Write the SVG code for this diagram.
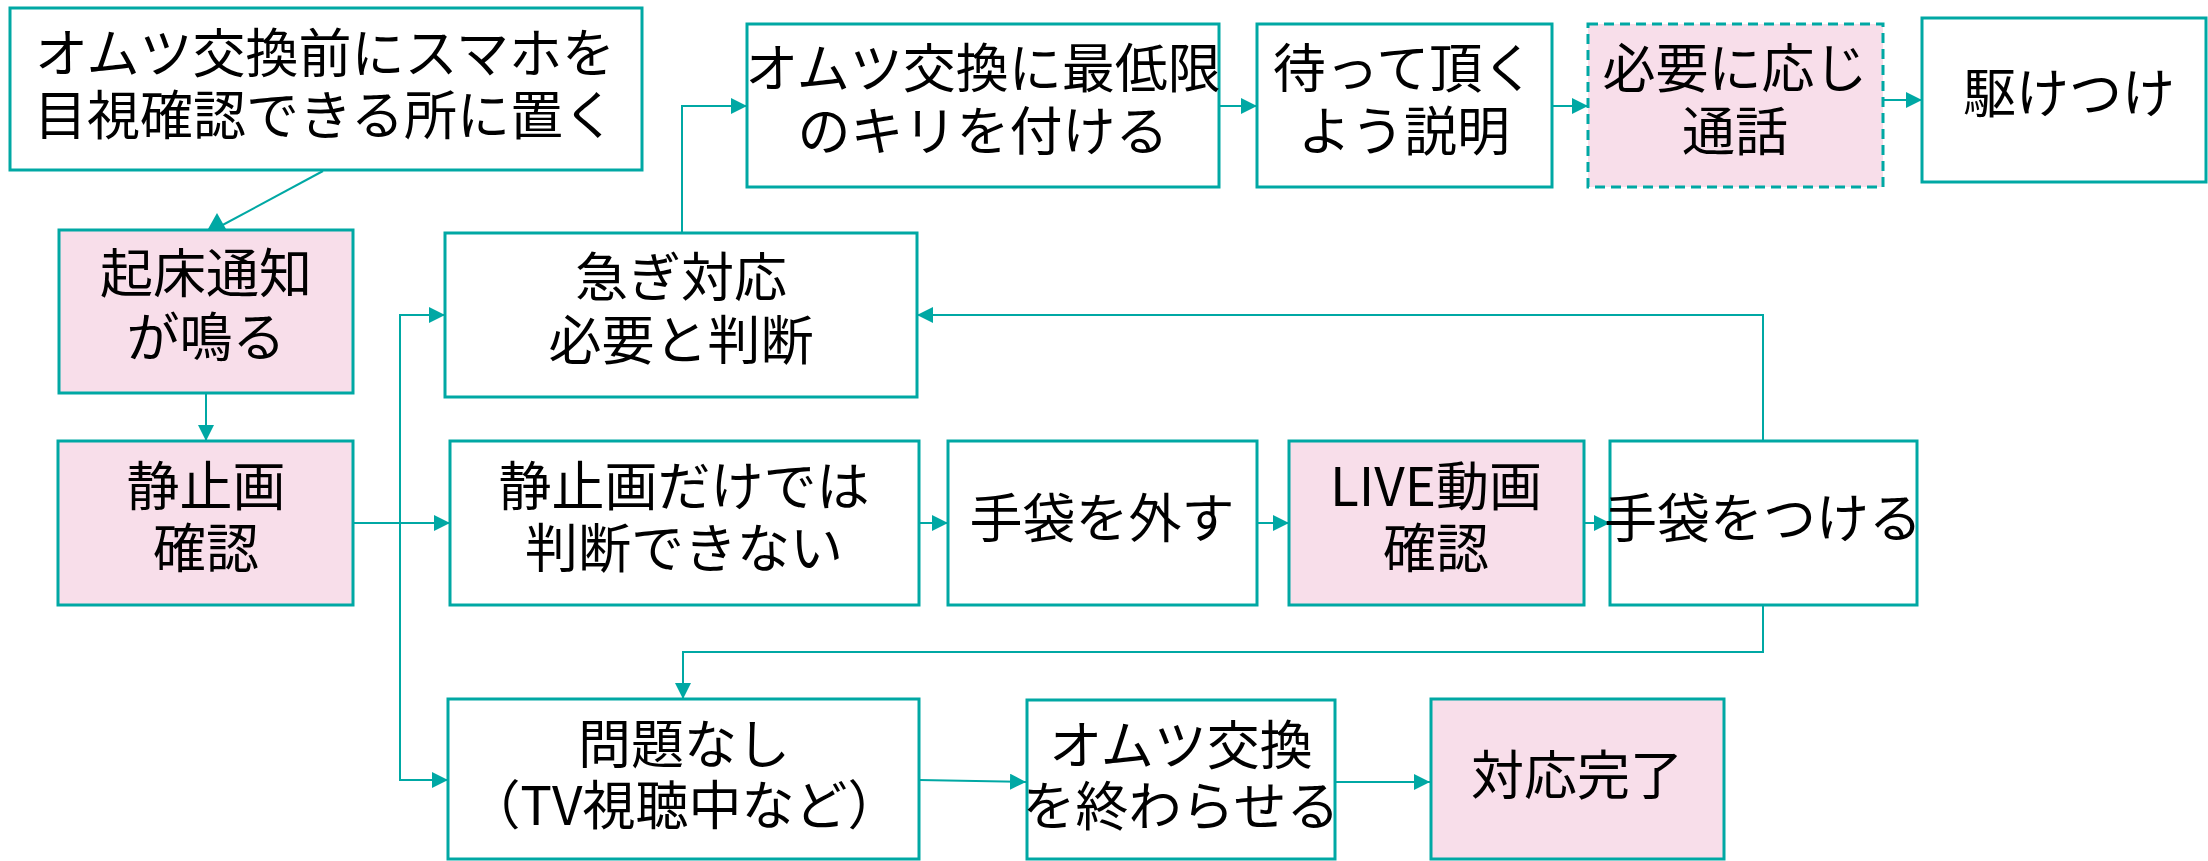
<svg xmlns="http://www.w3.org/2000/svg" width="2208" height="861" viewBox="0 0 2208 861">
<style>
.box{fill:#ffffff;stroke:#00A8A4;stroke-width:3}
.pink{fill:#F8DEEA}
.dash{stroke-dasharray:10 6}
.t{font-family:"Noto Sans CJK JP","Noto Sans",sans-serif;font-size:53px;fill:#000000;text-anchor:middle}
.c{fill:none;stroke:#00A8A4;stroke-width:2}
</style>
<defs>
<marker id="ah" markerUnits="userSpaceOnUse" markerWidth="16" markerHeight="16" refX="16" refY="8" orient="auto">
<path d="M0,0 L16,8 L0,16 z" fill="#00A8A4"/>
</marker>
</defs>
<rect width="2208" height="861" fill="#ffffff"/>
<g id="connectors">
<line class="c" x1="323" y1="171" x2="217" y2="228"/>
<polygon points="217,213 208,229 226,229" fill="#00A8A4"/>
<line class="c" x1="206" y1="393" x2="206" y2="441" marker-end="url(#ah)"/>
<polyline class="c" points="682,233 682,106 747,106" marker-end="url(#ah)"/>
<line class="c" x1="1219" y1="106" x2="1257" y2="106" marker-end="url(#ah)"/>
<line class="c" x1="1552" y1="106" x2="1588" y2="106" marker-end="url(#ah)"/>
<line class="c" x1="1883" y1="100" x2="1922" y2="100" marker-end="url(#ah)"/>
<line class="c" x1="353" y1="523" x2="450" y2="523" marker-end="url(#ah)"/>
<polyline class="c" points="400,780 400,315 445,315" marker-end="url(#ah)"/>
<polyline class="c" points="400,600 400,780 448,780" marker-end="url(#ah)"/>
<line class="c" x1="919" y1="523" x2="948" y2="523" marker-end="url(#ah)"/>
<line class="c" x1="1257" y1="523" x2="1289" y2="523" marker-end="url(#ah)"/>
<line class="c" x1="1584" y1="523" x2="1610" y2="523" marker-end="url(#ah)"/>
<polyline class="c" points="1763,441 1763,315 917,315" marker-end="url(#ah)"/>
<polyline class="c" points="1763,605 1763,652 683,652 683,699" marker-end="url(#ah)"/>
<line class="c" x1="919" y1="780" x2="1026" y2="782" marker-end="url(#ah)"/>
<line class="c" x1="1335" y1="782" x2="1430" y2="782" marker-end="url(#ah)"/>
</g>
<g id="n1">
<rect class="box" x="10" y="8" width="632" height="162"/>
<text class="t" y="73"><tspan x="325">オムツ交換前にスマホを</tspan><tspan x="325" dy="62">目視確認できる所に置く</tspan></text>
</g>
<g id="n2">
<rect class="box pink" x="59" y="230" width="294" height="163"/>
<text class="t" y="293"><tspan x="206">起床通知</tspan><tspan x="206" dy="64">が鳴る</tspan></text>
</g>
<g id="n3">
<rect class="box" x="445" y="233" width="472" height="164"/>
<text class="t" y="297"><tspan x="681">急ぎ対応</tspan><tspan x="681" dy="63">必要と判断</tspan></text>
</g>
<g id="n4">
<rect class="box" x="747" y="24" width="472" height="163"/>
<text class="t" y="88"><tspan x="983">オムツ交換に最低限</tspan><tspan x="983" dy="63">のキリを付ける</tspan></text>
</g>
<g id="n5">
<rect class="box" x="1257" y="24" width="295" height="163"/>
<text class="t" y="88"><tspan x="1404">待って頂く</tspan><tspan x="1404" dy="63">よう説明</tspan></text>
</g>
<g id="n6">
<rect class="box pink dash" x="1588" y="24" width="295" height="163"/>
<text class="t" y="88"><tspan x="1735">必要に応じ</tspan><tspan x="1735" dy="63">通話</tspan></text>
</g>
<g id="n7">
<rect class="box" x="1922" y="18" width="284" height="164"/>
<text class="t" x="2069" y="113">駆けつけ</text>
</g>
<g id="n8">
<rect class="box pink" x="58" y="441" width="295" height="164"/>
<text class="t" y="506"><tspan x="206">静止画</tspan><tspan x="206" dy="62">確認</tspan></text>
</g>
<g id="n9">
<rect class="box" x="450" y="441" width="469" height="164"/>
<text class="t" y="506"><tspan x="684">静止画だけでは</tspan><tspan x="684" dy="62">判断できない</tspan></text>
</g>
<g id="n10">
<rect class="box" x="948" y="441" width="309" height="164"/>
<text class="t" x="1102" y="538">手袋を外す</text>
</g>
<g id="n11">
<rect class="box pink" x="1289" y="441" width="295" height="164"/>
<text class="t" y="506"><tspan x="1436">LIVE動画</tspan><tspan x="1436" dy="62">確認</tspan></text>
</g>
<g id="n12">
<rect class="box" x="1610" y="441" width="307" height="164"/>
<text class="t" x="1763" y="538">手袋をつける</text>
</g>
<g id="n13">
<rect class="box" x="448" y="699" width="471" height="160"/>
<text class="t" y="764"><tspan x="684">問題なし</tspan><tspan x="684" dy="61">（TV視聴中など）</tspan></text>
</g>
<g id="n14">
<rect class="box" x="1027" y="700" width="308" height="159"/>
<text class="t" y="765"><tspan x="1181">オムツ交換</tspan><tspan x="1181" dy="61">を終わらせる</tspan></text>
</g>
<g id="n15">
<rect class="box pink" x="1431" y="699" width="293" height="160"/>
<text class="t" x="1577" y="795">対応完了</text>
</g>
</svg>
